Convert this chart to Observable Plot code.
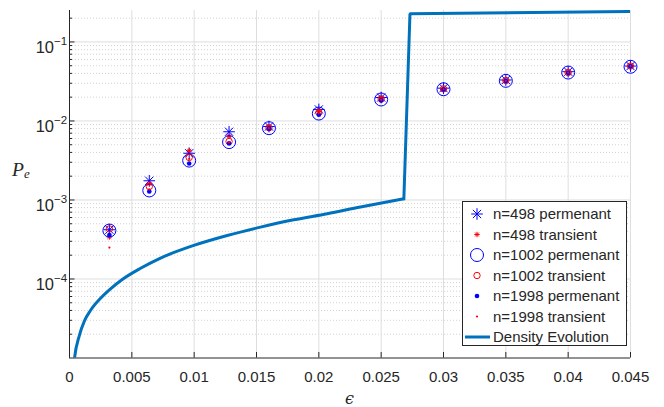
<!DOCTYPE html>
<html>
<head>
<meta charset="utf-8">
<script src="https://cdn.jsdelivr.net/npm/d3@7"></script>
<script src="https://cdn.jsdelivr.net/npm/@observablehq/plot@0.6"></script>
<style>
  body { margin: 0; background: #fff; }
  #wrap { position: relative; width: 664px; height: 407px; background: #fff; }
  #wrap svg { display: block; }
  #overlay { position: absolute; left: 0; top: 0; pointer-events: none; }
</style>
</head>
<body>
<div id="wrap"></div>
<script>
// ---------------- data ----------------
const eps = [0.0032, 0.0064, 0.0096, 0.0128, 0.016, 0.02, 0.025, 0.03, 0.035, 0.04, 0.045];

const n498Perm   = [4.2e-4, 1.75e-3, 3.9e-3, 7.3e-3, 8.5e-3, 1.40e-2, 1.98e-2, 2.60e-2, 3.30e-2, 4.20e-2, 4.95e-2];
const n498Trans  = [3.4e-4, 1.60e-3, 4.2e-3, 6.4e-3, 8.3e-3, 1.32e-2, 1.93e-2, 2.55e-2, 3.25e-2, 4.15e-2, 5.00e-2];
const n1002Perm  = [4.1e-4, 1.32e-3, 3.15e-3, 5.4e-3, 8.1e-3, 1.24e-2, 1.87e-2, 2.52e-2, 3.22e-2, 4.10e-2, 4.85e-2];
const n1002Trans = [4.3e-4, 1.48e-3, 3.45e-3, 5.5e-3, 8.2e-3, 1.28e-2, 1.90e-2, 2.55e-2, 3.25e-2, 4.10e-2, 4.95e-2];
const n1998Perm  = [3.6e-4, 1.28e-3, 2.9e-3, 5.2e-3, 8.0e-3, 1.20e-2, 1.82e-2, 2.50e-2, 3.20e-2, 4.05e-2, 4.90e-2];
const n1998Trans = [2.5e-4, 1.36e-3, 3.3e-3, 5.35e-3, 8.1e-3, 1.25e-2, 1.85e-2, 2.52e-2, 3.22e-2, 4.10e-2, 4.95e-2];

// density evolution: smooth part below threshold, then the jump
const deEps = [0.0003, 0.00040, 0.00080, 0.00120, 0.00168, 0.00249, 0.00329, 0.00423, 0.00570, 0.00730,
               0.00997, 0.01265, 0.01532, 0.01799, 0.02067, 0.02334, 0.02682];
const dePe  = [7.0e-6, 9.9e-6, 1.95e-5, 2.95e-5, 3.99e-5, 5.7e-5, 7.5e-5, 9.85e-5, 1.365e-4, 1.84e-4,
               2.66e-4, 3.55e-4, 4.53e-4, 5.61e-4, 6.7e-4, 8.15e-4, 1.035e-3];
const deJumpEps = [0.02682, 0.02731, 0.045];
const deJumpPe  = [1.035e-3, 0.2275, 0.243];

const xTicks = [0, 0.005, 0.01, 0.015, 0.02, 0.025, 0.03, 0.035, 0.04, 0.045];
const xTickLabels = ["0", "0.005", "0.01", "0.015", "0.02", "0.025", "0.03", "0.035", "0.04", "0.045"];
const yTicks = [1e-4, 1e-3, 1e-2, 1e-1];
const yTickExp = ["\u22124", "\u22123", "\u22122", "\u22121"];

const seriesLabels = ["n=498 permenant", "n=498 transient", "n=1002 permenant",
                      "n=1002 transient", "n=1998 permenant", "n=1998 transient"];
const deLabel = "Density Evolution";

// ---------------- layout / style ----------------
const W = 664, H = 407;
const mL = 69, mR = 34, mT = 10, mB = 49.5;
const frameW = W - mL - mR, frameH = H - mT - mB;
const axisColor = "#262626";
const blue = "#0000ff", red = "#ff0000", deColor = "#0072BD";

// MATLAB-style 8-spoke asterisk
const asterisk8 = {
  draw(ctx, size) {
    const r = Math.sqrt(size / Math.PI), d = r * Math.SQRT1_2;
    ctx.moveTo(-r, 0); ctx.lineTo(r, 0);
    ctx.moveTo(0, -r); ctx.lineTo(0, r);
    ctx.moveTo(-d, -d); ctx.lineTo(d, d);
    ctx.moveTo(-d, d); ctx.lineTo(d, -d);
  }
};

const seriesValues = [n498Perm, n498Trans, n1002Perm, n1002Trans, n1998Perm, n1998Trans];
const seriesStyle = [
  {symbol: asterisk8, r: 5.8, stroke: blue, fill: "none", strokeWidth: 1},
  {symbol: asterisk8, r: 2.7, stroke: red, fill: "none", strokeWidth: 1},
  {symbol: "circle", r: 6.5, stroke: blue, fill: "none", strokeWidth: 1},
  {symbol: "circle", r: 3.2, stroke: red, fill: "none", strokeWidth: 1},
  {symbol: "circle", r: 2.3, stroke: "none", fill: blue, strokeWidth: 0},
  {symbol: "circle", r: 1.1, stroke: "none", fill: red, strokeWidth: 0}
];

// minor log ticks (2..9 x 10^k)
const minorTicks = [];
for (let k = -5; k <= -1; k++) for (let m = 2; m <= 9; m++) {
  const v = m * Math.pow(10, k);
  if (v > 1e-5 && v < 0.25) minorTicks.push(v);
}

const deData = deEps.map((x, i) => ({x, y: dePe[i]}));
const deJump = deJumpEps.map((x, i) => ({x, y: deJumpPe[i]}));

const dotMarks = seriesValues.map((vals, s) =>
  Plot.dot(eps.map((x, i) => ({x, y: vals[i]})), {
    x: "x", y: "y",
    symbol: seriesStyle[s].symbol, r: seriesStyle[s].r,
    stroke: seriesStyle[s].stroke, fill: seriesStyle[s].fill,
    strokeWidth: seriesStyle[s].strokeWidth
  })
);

const chart = Plot.plot({
  width: W, height: H,
  marginLeft: mL, marginRight: mR, marginTop: mT, marginBottom: mB,
  x: {domain: [0, 0.045], axis: null},
  y: {type: "log", domain: [1e-5, 0.25], axis: null},
  style: {fontFamily: "'Liberation Sans', Arial, Helvetica, sans-serif", color: axisColor, background: "white", overflow: "visible"},
  marks: [
    // grid
    Plot.ruleY(minorTicks, {stroke: "#d2d2d2", strokeDasharray: "1,2", strokeWidth: 1}),
    Plot.ruleY(yTicks, {stroke: "#dedede", strokeWidth: 1}),
    Plot.ruleX(xTicks, {stroke: "#dedede", strokeWidth: 1}),
    // data
    ...dotMarks,
    Plot.line(deData, {x: "x", y: "y", stroke: deColor, strokeWidth: 3, curve: "monotone-x",
      strokeLinecap: "butt", clip: true}),
    Plot.line(deJump, {x: "x", y: "y", stroke: deColor, strokeWidth: 3, strokeLinejoin: "miter",
      strokeLinecap: "square", clip: true}),
    // axis lines
    Plot.ruleX([0], {stroke: axisColor, strokeWidth: 1}),
    Plot.ruleY([1e-5], {stroke: axisColor, strokeWidth: 1}),
    // inward ticks
    Plot.tickX(xTicks, {x: d => d, stroke: axisColor, insetTop: frameH - 5.5}),
    Plot.tickY(yTicks, {y: d => d, stroke: axisColor, insetRight: frameW - 5.5}),
    Plot.tickY(minorTicks, {y: d => d, stroke: axisColor, insetRight: frameW - 3}),
    // x tick labels
    Plot.text(xTicks, {x: d => d, text: (d, i) => xTickLabels[i], frameAnchor: "bottom", lineAnchor: "top",
      dy: 13, fontSize: 15, fill: axisColor}),
    // y tick labels 10^k
    Plot.text(yTicks, {y: d => d, text: () => "10", frameAnchor: "left", textAnchor: "end",
      dx: -15.5, dy: 5.5, fontSize: 16.5, fill: axisColor}),
    Plot.text(yTicks, {y: d => d, text: (d, i) => yTickExp[i], frameAnchor: "left", textAnchor: "start",
      dx: -15.5, dy: -0.5, fontSize: 11.5, fill: axisColor})
  ]
});

const wrap = document.getElementById("wrap");
wrap.appendChild(chart);

// ---------------- overlay: axis titles + legend ----------------
const ov = d3.select(wrap).append("svg")
  .attr("id", "overlay").attr("width", W).attr("height", H);

// y label P_e
const yl = ov.append("text").attr("x", 12).attr("y", 176)
  .attr("font-family", "'Liberation Serif', 'Times New Roman', serif")
  .attr("font-style", "italic").attr("font-size", 19.5).attr("fill", axisColor);
yl.append("tspan").text("P");
yl.append("tspan").attr("font-size", 13).attr("dy", 2).text("e");

// x label epsilon (LaTeX \epsilon)
ov.append("text").attr("x", mL + frameW / 2).attr("y", 404)
  .attr("text-anchor", "middle")
  .attr("font-family", "'DejaVu Serif', 'Liberation Serif', serif")
  .attr("font-style", "italic").attr("font-size", 16).attr("fill", axisColor)
  .text("\u03F5");

// legend
const lgX = 462, lgY = 201, lgW = 165, lgH = 145;
const lg = ov.append("g").attr("transform", `translate(${lgX},${lgY})`);
lg.append("rect").attr("x", 0.5).attr("y", 0.5).attr("width", lgW - 1).attr("height", lgH - 1)
  .attr("fill", "white").attr("stroke", axisColor).attr("stroke-width", 1);
const rowY = i => 13 + i * 20.5;
seriesLabels.forEach((lab, i) => {
  const st = seriesStyle[i];
  const sym = typeof st.symbol === "string" ? d3.symbolCircle : st.symbol;
  lg.append("path")
    .attr("transform", `translate(15,${rowY(i)})`)
    .attr("d", d3.symbol(sym, st.r * st.r * Math.PI)())
    .attr("fill", st.fill).attr("stroke", st.stroke).attr("stroke-width", st.strokeWidth);
  lg.append("text").attr("x", 31).attr("y", rowY(i) + 5.3)
    .attr("font-family", "'Liberation Sans', Arial, sans-serif").attr("font-size", 15)
    .attr("fill", axisColor).text(lab);
});
lg.append("line").attr("x1", 3).attr("x2", 28).attr("y1", rowY(6)).attr("y2", rowY(6))
  .attr("stroke", deColor).attr("stroke-width", 3);
lg.append("text").attr("x", 31).attr("y", rowY(6) + 5.3)
  .attr("font-family", "'Liberation Sans', Arial, sans-serif").attr("font-size", 15)
  .attr("fill", axisColor).text(deLabel);
</script>
</body>
</html>
